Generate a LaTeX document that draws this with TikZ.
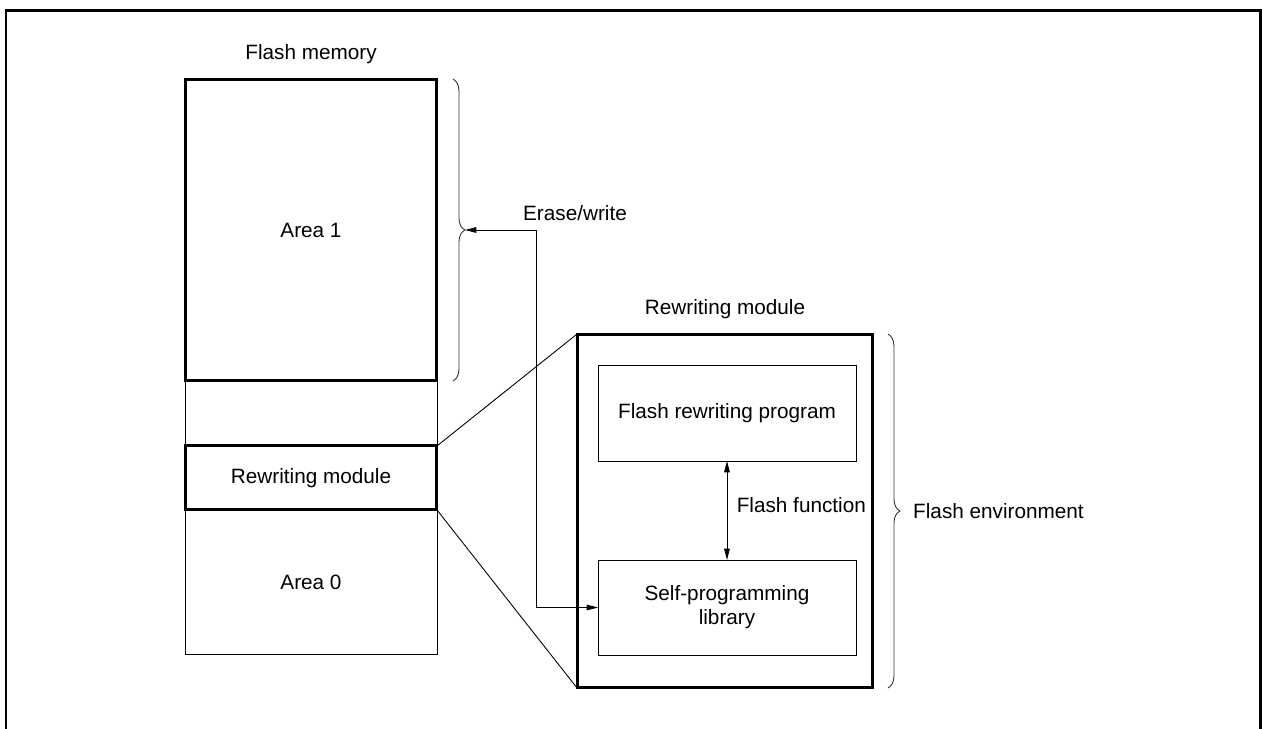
\documentclass[tikz,border=0pt]{standalone}
\usepackage{fontspec}
\setmainfont{Liberation Sans}
\usetikzlibrary{arrows.meta,positioning,calc,decorations.pathreplacing}

\begin{document}
\begin{tikzpicture}[
    x=0.02cm, y=-0.02cm,
    font=\fontsize{11.8}{13.8}\selectfont,
    heavy/.style={draw, line width=1.7pt, inner sep=0pt, outer sep=0pt},
    light/.style={draw, line width=0.5pt, inner sep=0pt, outer sep=0pt},
    arr/.style={{Triangle[length=6.5pt,width=3.2pt]}-{Triangle[length=6.5pt,width=3.2pt]},
                line width=0.5pt},
    brc/.style={decorate, decoration={brace,amplitude=0.24cm},
                line width=0.5pt, black!80}
  ]
    \useasboundingbox (0,0) rectangle (1262,728);
    % Frame
    \draw[line width=1.7pt] (6,740) -- (6,10) -- (1260,10) -- (1260,740);

    % Flash memory
    \node[heavy, minimum width=5.04cm, minimum height=6.04cm] (area1) at (311,230) {Area 1};
    \node[light, minimum width=5.04cm, minimum height=1.3cm, below=0pt of area1] (gap) {};
    \node[heavy, minimum width=5.04cm, minimum height=1.28cm, below=0pt of gap] (rwm) {Rewriting module};
    \node[light, minimum width=5.04cm, minimum height=2.9cm, below=0pt of rwm] (area0) {Area 0};
    \node[above=5pt of area1] (fmlbl) {Flash memory};

    % Rewriting module (detail)
    \node[heavy, minimum width=5.92cm, minimum height=7.08cm] (rm) at (725,511) {};
    \node[above=5pt of rm] (rmlbl) {Rewriting module};
    \node[light, minimum width=5.16cm, minimum height=1.92cm] (prog) at (727,413) {Flash rewriting program};
    \node[light, minimum width=5.16cm, minimum height=1.9cm, align=center] (lib) at (727,607.5)
      {Self-programming\\library};

    \draw[line width=0.5pt] (rwm.north east) -- (rm.north west);
    \draw[line width=0.5pt] (rwm.south east) -- (rm.south west);

    \draw[arr] (prog.south) -- (lib.north)
      node[midway, right=2pt, yshift=3pt] (fflbl) {Flash function};

    % Braces
    \draw[brc] ([xshift=0.32cm]area1.north east) -- ([xshift=0.32cm]area1.south east)
      coordinate[midway, xshift=0.24cm] (b1);
    \draw[brc] ([xshift=0.3cm]rm.north east) -- ([xshift=0.3cm]rm.south east)
      coordinate[midway, xshift=0.24cm] (b2);
    \node[right=4pt of b2] (envlbl) {Flash environment};

    % Erase/write
    \coordinate (ew) at (536,230);
    \draw[arr] (b1) -- (ew) |- (lib.west);
    \node (ewlbl) at (575,213) {Erase/write};
\end{tikzpicture}
\end{document}
